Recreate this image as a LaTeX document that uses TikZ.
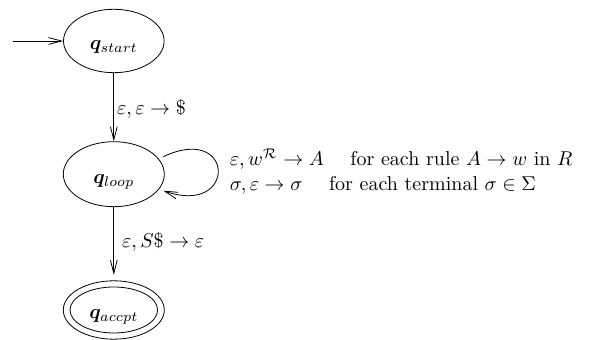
\documentclass[tikz,border=0pt]{standalone}
\usepackage{amsmath,amssymb,bm}
\usetikzlibrary{shapes.geometric,calc,arrows.meta}
\begin{document}
\begin{tikzpicture}[x=0.5pt,y=-0.5pt, line width=0.4pt,
  >={Straight Barb[length=6.5pt,width=3.4pt]},
  state/.style={draw, ellipse, inner sep=0pt, text height=9pt, text depth=0pt},
  lbl/.style={anchor=base west, inner sep=0pt}]
\useasboundingbox (0,0) rectangle (598,340);
\node[state, minimum width=50.3pt, minimum height=31.7pt] (start) at (113.8,41) {$\bm{q}_{start}$};
\node[state, minimum width=50.5pt, minimum height=32.5pt] (loop) at (113.8,174.2) {$\bm{q}_{loop}$};
\node[state, minimum width=50.5pt, minimum height=29.2pt] (accpt) at (113.8,310) {$\bm{q}_{accpt}$};
\node[draw, ellipse, minimum width=43.8pt, minimum height=23pt, inner sep=0pt] (accin) at (accpt.center) {};
\coordinate (s0) at (13,41);
\draw[->] (s0) -- (start);
\draw[->] (start) -- (loop);
\draw[->, shorten >=2.8pt] (loop) -- (accpt);
\coordinate (ls) at ($(loop.center)+(49.5,-17.5)$);
\coordinate (le) at ($(loop.center)+(49.5,16.5)$);
\draw[->] (ls) .. controls +(72,-34) and +(74,26) .. (le);
\node[lbl] (l1) at (116.7,114.5) {$\varepsilon,\varepsilon\rightarrow\$$};
\node[lbl] (l2) at (121.7,247.5) {$\varepsilon,S\$\rightarrow\varepsilon$};
\node[lbl] (l3) at (229.5,165.7) {$\varepsilon,w^{\mathcal{R}}\rightarrow A$ \quad for each rule $A\rightarrow w$ in $R$};
\node[lbl] (l4) at (229.5,191) {$\sigma,\varepsilon\rightarrow\sigma$ \quad for each terminal $\sigma\in\Sigma$};
\end{tikzpicture}
\end{document}
